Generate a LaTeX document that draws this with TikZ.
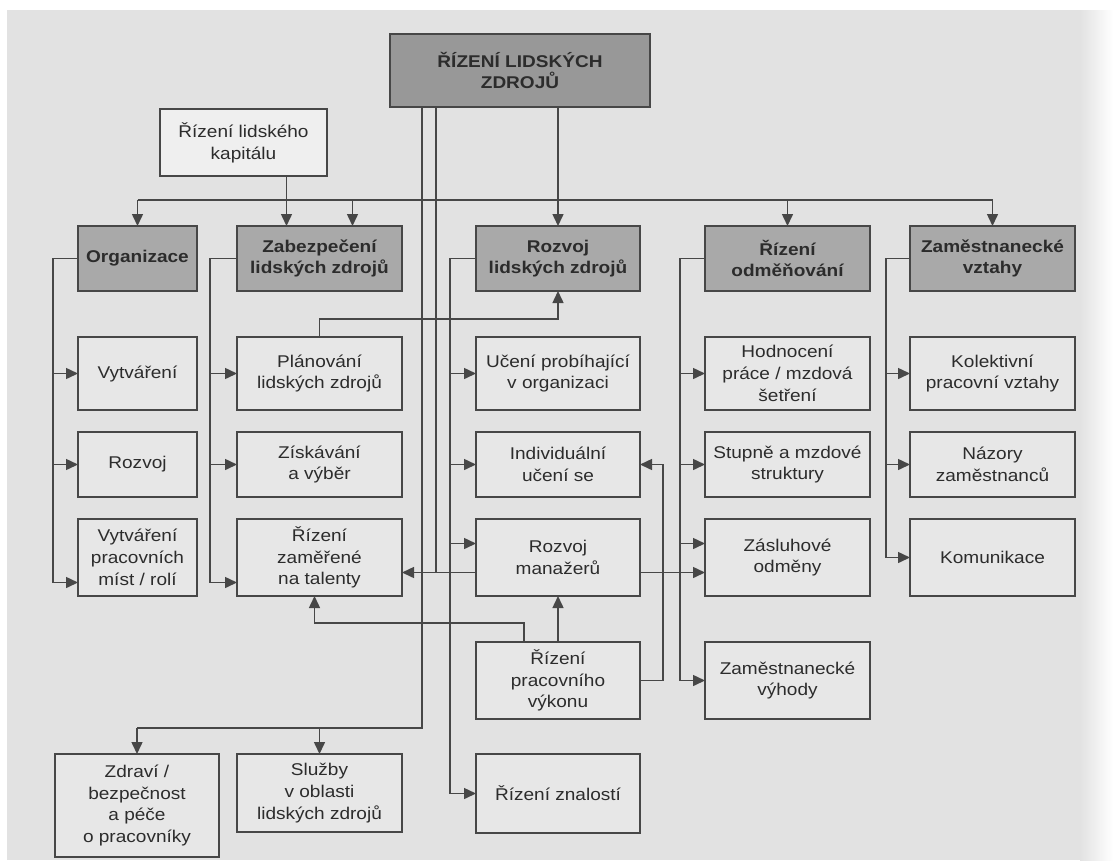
\documentclass[tikz,border=0pt]{standalone}
\usepackage{fontspec}
\setmainfont{Liberation Sans}[FakeStretch=1.12]
\usetikzlibrary{arrows.meta,calc}
\definecolor{bgc}{HTML}{E2E2E2}
\definecolor{boxc}{HTML}{E7E7E7}
\definecolor{hdrc}{HTML}{A9A9A9}
\definecolor{topc}{HTML}{989898}
\definecolor{kapc}{HTML}{EFEFEF}
\definecolor{linec}{HTML}{474747}
\definecolor{txtc}{HTML}{2C2C2C}
\begin{document}
\begin{tikzpicture}[x=1pt,y=-1pt,
  nbox/.style={draw=linec, line width=1.5pt, fill=boxc, text=txtc, align=center,
    inner sep=0pt, outer sep=0pt, anchor=north west, font=\fontsize{17}{21.7}\selectfont},
  hdr/.style={nbox, fill=hdrc, font=\fontsize{17}{21.7}\selectfont\bfseries},
  conn/.style={draw=linec, line width=1.5pt},
  carrow/.style={conn, -{Triangle[length=12pt,width=11pt]}},
]
% background
\fill[white] (0,0) rectangle (1113,860);
\fill[bgc] (7,10) rectangle (1113,860);
\shade[left color=bgc, right color=white] (1080,10) rectangle (1113,860);
\useasboundingbox (0,0) rectangle (1113,860);

% top
\node[hdr, fill=topc, minimum width=260pt, minimum height=73pt] (top) at (390,34) {ŘÍZENÍ LIDSKÝCH\\ZDROJŮ};
\node[nbox, fill=kapc, minimum width=167pt, minimum height=67pt] (kap) at (160,109) {Řízení lidského\\kapitálu};

% headers
\node[hdr, minimum width=119pt, minimum height=65pt] (org) at (78,226) {Organizace};
\node[hdr, minimum width=165pt, minimum height=65pt] (zab) at (237,226) {Zabezpečení\\lidských zdrojů};
\node[hdr, minimum width=164pt, minimum height=65pt] (rlz) at (476,226) {Rozvoj\\lidských zdrojů};
\node[hdr, minimum width=165pt, minimum height=65pt] (odm) at (705,226) {Řízení\\odměňování};
\node[hdr, minimum width=165pt, minimum height=65pt] (vzt) at (910,226) {Zaměstnanecké\\vztahy};

% row 1
\node[nbox, minimum width=119pt, minimum height=73pt] (vyt) at (78,337) {Vytváření};
\node[nbox, minimum width=165pt, minimum height=73pt] (pla) at (237,337) {Plánování\\lidských zdrojů};
\node[nbox, minimum width=164pt, minimum height=73pt] (uce) at (476,337) {Učení probíhající\\v organizaci};
\node[nbox, minimum width=165pt, minimum height=73pt] (hod) at (705,337) {Hodnocení\\práce / mzdová\\šetření};
\node[nbox, minimum width=165pt, minimum height=73pt] (kol) at (910,337) {Kolektivní\\pracovní vztahy};

% row 2
\node[nbox, minimum width=119pt, minimum height=65pt] (roz) at (78,432) {Rozvoj};
\node[nbox, minimum width=165pt, minimum height=65pt] (zis) at (237,432) {Získávání\\a výběr};
\node[nbox, minimum width=164pt, minimum height=65pt] (ind) at (476,432) {Individuální\\učení se};
\node[nbox, minimum width=165pt, minimum height=65pt] (stu) at (705,432) {Stupně a mzdové\\struktury};
\node[nbox, minimum width=165pt, minimum height=65pt] (naz) at (910,432) {Názory\\zaměstnanců};

% row 3
\node[nbox, minimum width=119pt, minimum height=77pt] (mis) at (78,519) {Vytváření\\pracovních\\míst / rolí};
\node[nbox, minimum width=165pt, minimum height=77pt] (tal) at (237,519) {Řízení\\zaměřené\\na talenty};
\node[nbox, minimum width=164pt, minimum height=77pt] (rm) at (476,519) {Rozvoj\\manažerů};
\node[nbox, minimum width=165pt, minimum height=77pt] (zas) at (705,519) {Zásluhové\\odměny};
\node[nbox, minimum width=165pt, minimum height=77pt] (kom) at (910,519) {Komunikace};

% row 4 and bottom
\node[nbox, minimum width=164pt, minimum height=77pt] (vyk) at (476,642) {Řízení\\pracovního\\výkonu};
\node[nbox, minimum width=165pt, minimum height=77pt] (vyh) at (705,642) {Zaměstnanecké\\výhody};
\node[nbox, minimum width=164pt, minimum height=79pt] (zna) at (476,754) {Řízení znalostí};
\node[nbox, minimum width=164pt, minimum height=103pt] (zdr) at (55,754) {Zdraví /\\bezpečnost\\a péče\\o pracovníky};
\node[nbox, minimum width=165pt, minimum height=78pt] (slu) at (237,754) {Služby\\v oblasti\\lidských zdrojů};

% helper coordinates
\coordinate (busy) at (0,200);
\coordinate (bby) at (0,728);
\coordinate (ply) at (0,319);
\coordinate (vty) at (0,623);
\coordinate (cA) at (53,0);
\coordinate (cB) at (210,0);
\coordinate (cC) at (450,0);
\coordinate (cD) at (680,0);
\coordinate (cE) at (886,0);
\coordinate (cF) at (663,0);
\coordinate (zabR) at ($(zab.north)+(33,0)$);
\coordinate (zabL) at ($(zab.north)+(-33,0)$);
\coordinate (v1) at ($(top.south west)+(32,0)$);
\coordinate (v2) at ($(top.south west)+(46,0)$);
\coordinate (talin) at ($(tal.east)+(0,15)$);
\coordinate (misin) at ($(mis.west)+(0,25)$);
\coordinate (talin2) at ($(tal.west)+(0,25)$);
\coordinate (rmin) at ($(rm.west)+(0,-14)$);
\coordinate (zasin) at ($(zas.west)+(0,-14)$);
\coordinate (rmout) at ($(rm.east)+(0,15)$);
\coordinate (vk1) at ($(vyk.north)+(-34,0)$);
\coordinate (tl1) at ($(tal.south)+(-5,0)$);

% top level connectors
\draw[carrow] (top.south -| rlz.north) -- (rlz.north);
\draw[conn] (org.north |- busy) -- (vzt.north |- busy);
\draw[carrow] (org.north |- busy) -- (org.north);
\draw[carrow] (zabR |- busy) -- (zabR);
\draw[carrow] (zabL |- kap.south) -- (zabL);
\draw[carrow] (odm.north |- busy) -- (odm.north);
\draw[carrow] (vzt.north |- busy) -- (vzt.north);

% long verticals from top
\draw[conn] (v1) -- (v1 |- bby) -- (zdr.north |- bby);
\draw[carrow] (zdr.north |- bby) -- (zdr.north);
\draw[carrow] (slu.north |- bby) -- (slu.north);
\draw[carrow] (v2) -- (v2 |- talin) -- (talin);
\draw[conn] (rm.west |- talin) -- (v2 |- talin);

% Organizace column
\draw[conn] (org.west) -- (cA |- org.west) -- (cA |- misin);
\draw[carrow] (cA |- vyt.west) -- (vyt.west);
\draw[carrow] (cA |- roz.west) -- (roz.west);
\draw[carrow] (cA |- misin) -- (misin);

% Zabezpeceni column
\draw[conn] (zab.west) -- (cB |- zab.west) -- (cB |- talin2);
\draw[carrow] (cB |- pla.west) -- (pla.west);
\draw[carrow] (cB |- zis.west) -- (zis.west);
\draw[carrow] (cB |- talin2) -- (talin2);

% Rozvoj column
\draw[conn] (rlz.west) -- (cC |- rlz.west) -- (cC |- zna.west);
\draw[carrow] (cC |- uce.west) -- (uce.west);
\draw[carrow] (cC |- ind.west) -- (ind.west);
\draw[carrow] (cC |- rmin) -- (rmin);
\draw[carrow] (cC |- zna.west) -- (zna.west);

% Odmenovani column
\draw[conn] (odm.west) -- (cD |- odm.west) -- (cD |- vyh.west);
\draw[carrow] (cD |- hod.west) -- (hod.west);
\draw[carrow] (cD |- stu.west) -- (stu.west);
\draw[carrow] (cD |- zasin) -- (zasin);
\draw[carrow] (cD |- vyh.west) -- (vyh.west);

% Vztahy column
\draw[conn] (vzt.west) -- (cE |- vzt.west) -- (cE |- kom.west);
\draw[carrow] (cE |- kol.west) -- (kol.west);
\draw[carrow] (cE |- naz.west) -- (naz.west);
\draw[carrow] (cE |- kom.west) -- (kom.west);

% cross links
\draw[carrow] (pla.north) -- (pla.north |- ply) -- (rlz.south |- ply) -- (rlz.south);
\draw[carrow] (vyk.north) -- (vyk.north |- rm.south);
\draw[carrow] (vk1) -- (vk1 |- vty) -- (tl1 |- vty) -- (tl1);
\draw[carrow] (vyk.east) -- (cF |- vyk.east) -- (cF |- ind.east) -- (ind.east);
\draw[carrow] (rmout) -- (zas.west |- rmout);
\end{tikzpicture}
\end{document}
